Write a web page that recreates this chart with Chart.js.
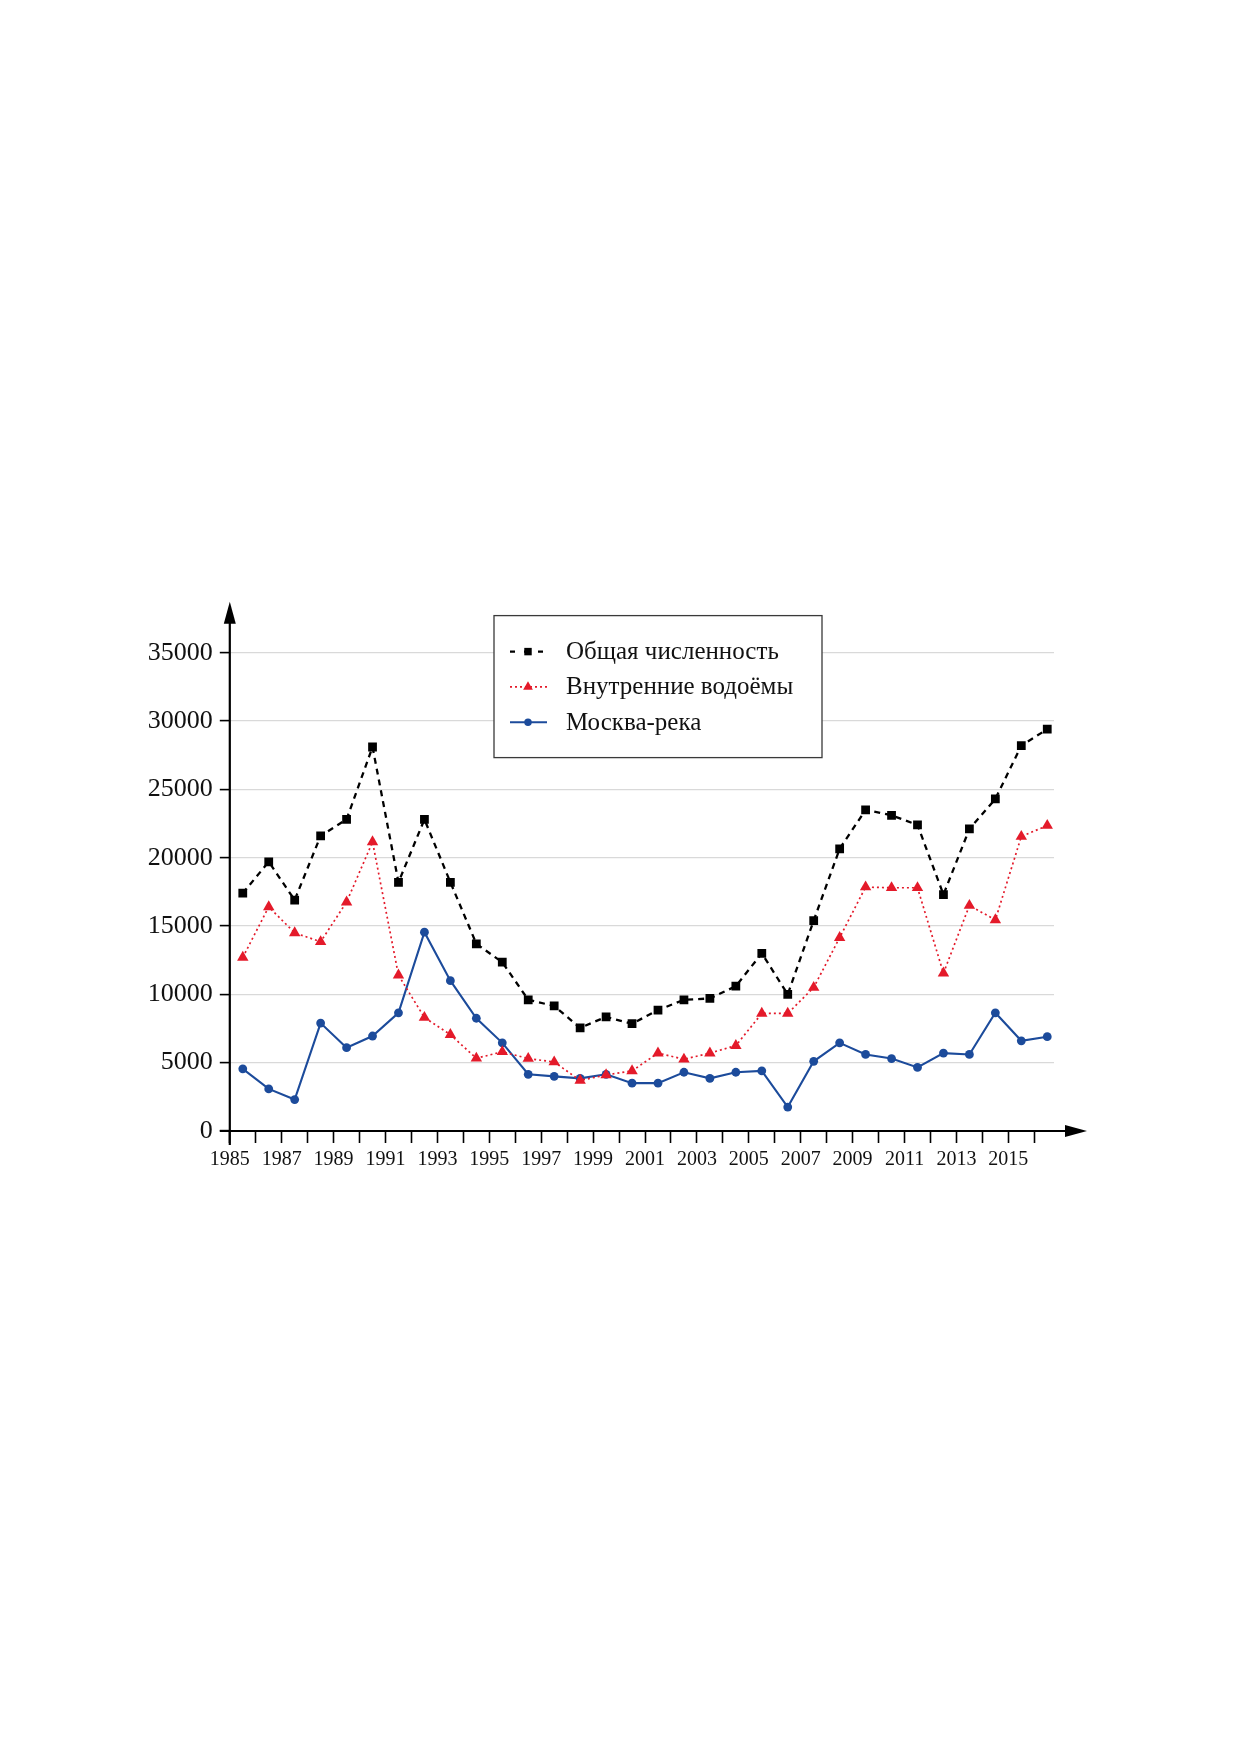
<!DOCTYPE html>
<html>
<head>
<meta charset="utf-8">
<script src="https://cdn.jsdelivr.net/npm/chart.js@4.4.0/dist/chart.umd.min.js"></script>
<style>
  body { margin: 0; background: #fff; }
  canvas { display: block; }
</style>
</head>
<body>
<canvas id="chart" width="1237" height="1754"></canvas>
<script>
const years = [1985, 1986, 1987, 1988, 1989, 1990, 1991, 1992, 1993, 1994, 1995, 1996, 1997, 1998, 1999, 2000,
  2001, 2002, 2003, 2004, 2005, 2006, 2007, 2008, 2009, 2010, 2011, 2012, 2013, 2014, 2015, 2016];
const total = [17400, 19700, 16900, 21600, 22800, 28100, 18200, 22800, 18200, 13700, 12350, 9600, 9150, 7550, 8350, 7850,
  8850, 9600, 9700, 10600, 13000, 10000, 15400, 20650, 23500, 23100, 22400, 17300, 22100, 24300, 28200, 29400];
const inland = [12700, 16400, 14500, 13850, 16750, 21150, 11400, 8300, 7050, 5320, 5800, 5300, 5050, 3700, 4100, 4400,
  5700, 5250, 5700, 6250, 8600, 8600, 10500, 14150, 17850, 17800, 17800, 11550, 16500, 15450, 21550, 22350];
const river = [4550, 3080, 2300, 7900, 6100, 6950, 8650, 14550, 11000, 8250, 6450, 4150, 4000, 3850, 4150, 3500,
  3500, 4300, 3850, 4300, 4400, 1750, 5100, 6450, 5600, 5300, 4650, 5700, 5600, 8650, 6600, 6900];
const seriesNames = ['Общая численность', 'Внутренние водоёмы', 'Москва-река'];

const serif = '"Liberation Serif", "DejaVu Serif", serif';

// points sit in the middle of each year interval
const toPoints = arr => arr.map((v, i) => ({ x: years[i] + 0.5, y: v }));

// axes with arrowheads, drawn under the data
const arrowAxes = {
  id: 'arrowAxes',
  beforeDatasetsDraw(chart) {
    const { ctx, chartArea: a, scales: { y } } = chart;
    const x0 = a.left;
    const y0 = y.getPixelForValue(0);
    ctx.save();
    ctx.strokeStyle = '#000';
    ctx.fillStyle = '#000';
    ctx.lineWidth = 2.2;
    ctx.beginPath();
    ctx.moveTo(x0, y0 + 14);
    ctx.lineTo(x0, a.top - 32);
    ctx.moveTo(x0 - 10, y0);
    ctx.lineTo(a.right + 14, y0);
    ctx.stroke();
    // y arrow
    ctx.beginPath();
    ctx.moveTo(x0, a.top - 51);
    ctx.lineTo(x0 - 6, a.top - 29);
    ctx.lineTo(x0 + 6, a.top - 29);
    ctx.closePath();
    ctx.fill();
    // x arrow
    ctx.beginPath();
    ctx.moveTo(a.right + 33, y0);
    ctx.lineTo(a.right + 11, y0 - 6);
    ctx.lineTo(a.right + 11, y0 + 6);
    ctx.closePath();
    ctx.fill();
    ctx.restore();
  }
};

// framed legend with line sample + marker
const boxLegend = {
  id: 'boxLegend',
  afterDraw(chart, args, opts) {
    const { ctx } = chart;
    const { left, top, width, height } = opts;
    ctx.save();
    ctx.fillStyle = '#fff';
    ctx.fillRect(left, top, width, height);
    ctx.strokeStyle = '#3a3a3a';
    ctx.lineWidth = 1.3;
    ctx.strokeRect(left, top, width, height);
    chart.data.datasets.forEach((ds, i) => {
      const cy = top + 36 + i * 35.3;
      const sx = left + 16, ex = left + 53, mx = left + 34;
      ctx.strokeStyle = ds.borderColor;
      ctx.lineWidth = ds.borderWidth;
      ctx.setLineDash(ds.legendDash || []);
      ctx.beginPath();
      ctx.moveTo(sx, cy);
      ctx.lineTo(ex, cy);
      ctx.stroke();
      ctx.setLineDash([]);
      ctx.fillStyle = ds.pointBackgroundColor;
      Chart.helpers.drawPoint(ctx, {
        pointStyle: ds.pointStyle, rotation: 0, radius: ds.pointRadius * 0.85, borderWidth: 0
      }, mx, cy);
      ctx.fillStyle = '#111';
      ctx.font = '25px ' + serif;
      ctx.textAlign = 'left';
      ctx.textBaseline = 'middle';
      ctx.fillText(ds.label, left + 72, cy + 1);
    });
    ctx.restore();
  }
};

new Chart(document.getElementById('chart'), {
  type: 'line',
  data: {
    datasets: [
      {
        label: seriesNames[0],
        data: toPoints(total),
        borderColor: '#000',
        borderWidth: 2.3,
        borderDash: [6, 5],
        legendDash: [5, 9],
        pointStyle: 'rect',
        pointRadius: 6.2,
        pointBackgroundColor: '#000',
        pointBorderColor: '#000',
        pointBorderWidth: 0
      },
      {
        label: seriesNames[1],
        data: toPoints(inland),
        borderColor: '#e41a2a',
        borderWidth: 1.7,
        borderDash: [2, 3],
        legendDash: [2, 3],
        pointStyle: 'triangle',
        pointRadius: 6.6,
        pointBackgroundColor: '#e41a2a',
        pointBorderColor: '#e41a2a',
        pointBorderWidth: 0
      },
      {
        label: seriesNames[2],
        data: toPoints(river),
        borderColor: '#1c4b9b',
        borderWidth: 2.1,
        pointStyle: 'circle',
        pointRadius: 4.4,
        pointBackgroundColor: '#1c4b9b',
        pointBorderColor: '#1c4b9b',
        pointBorderWidth: 0
      }
    ]
  },
  options: {
    responsive: false,
    animation: false,
    devicePixelRatio: 1,
    layout: { padding: { left: 0, top: 652.7, right: 183, bottom: 0 } },
    elements: { line: { tension: 0 } },
    plugins: {
      legend: { display: false },
      tooltip: { enabled: false },
      boxLegend: { left: 494, top: 615.6, width: 328, height: 142 }
    },
    scales: {
      x: {
        type: 'linear',
        min: 1985,
        max: 2016.76,
        afterFit(scale) { scale.height = 1754 - 1131; },
        border: { display: false },
        grid: { drawOnChartArea: false, drawTicks: true, tickLength: 12, tickColor: '#000', tickWidth: 1.6 },
        ticks: {
          stepSize: 1,
          includeBounds: false,
          autoSkip: false,
          maxRotation: 0,
          minRotation: 0,
          padding: 5,
          color: '#111',
          font: { family: serif, size: 20 },
          callback: v => (v % 2 === 1 && v <= 2015) ? String(v) : ''
        }
      },
      y: {
        min: 0,
        max: 35000,
        afterFit(scale) { scale.width = 229.8; },
        border: { display: false },
        grid: {
          color: ctx => ctx.tick && ctx.tick.value === 0 ? 'rgba(0,0,0,0)' : '#d9d9d9',
          lineWidth: 1.2,
          tickLength: 10,
          tickColor: '#000',
          tickWidth: 1.6
        },
        ticks: {
          stepSize: 5000,
          padding: 7,
          color: '#111',
          font: { family: serif, size: 26 },
          callback: v => String(v)
        }
      }
    }
  },
  plugins: [arrowAxes, boxLegend]
});
</script>
</body>
</html>
